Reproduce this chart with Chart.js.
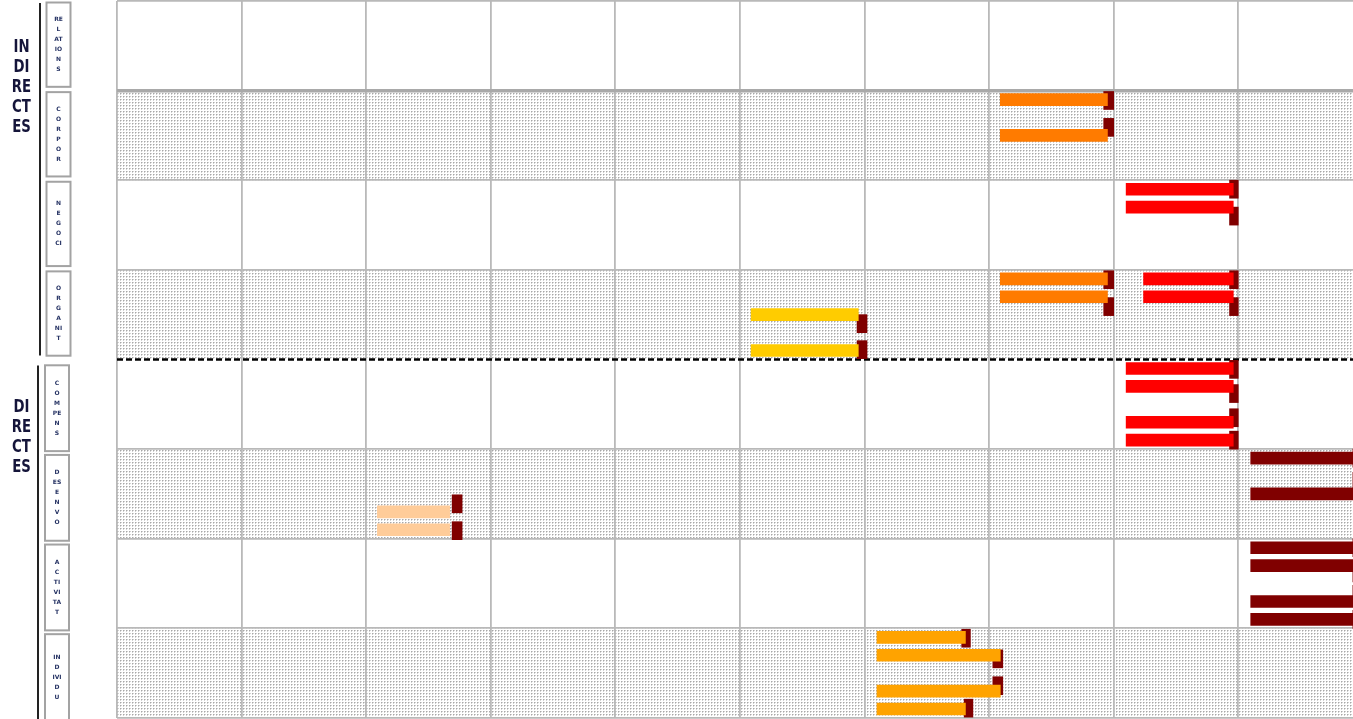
<!DOCTYPE html>
<html>
<head>
<meta charset="utf-8">
<script src="https://cdn.jsdelivr.net/npm/chart.js@4.4.1/dist/chart.umd.min.js"></script>
<style>
  html, body { margin: 0; padding: 0; background: #fff; overflow: hidden; }
  #wrap { width: 1353px; height: 719px; position: relative; }
</style>
</head>
<body>
<div id="wrap"><canvas id="plan"></canvas></div>
<script>
// Grups i files del quadre
const groupNames = ['INDIRECTES', 'DIRECTES'];
const groupFirstRow = [0, 4];
const groupLastRow = [3, 7];
const rowLabels = [
  ['RE', 'L', 'AT', 'IO', 'N', 'S'],
  ['C', 'O', 'R', 'P', 'O', 'R'],
  ['N', 'E', 'G', 'O', 'CI'],
  ['O', 'R', 'G', 'A', 'NI', 'T'],
  ['C', 'O', 'M', 'PE', 'N', 'S'],
  ['D', 'ES', 'E', 'N', 'V', 'O'],
  ['A', 'C', 'TI', 'VI', 'TA', 'T'],
  ['IN', 'D', 'IVI', 'D', 'U']
];

// Barres: carril (fila + posició dins la fila), inici, final i tipus
const taskLane  = [1.1, 1.5, 2.1, 2.3, 3.1, 3.3, 3.1, 3.3, 3.5, 3.9, 4.1, 4.3, 4.7, 4.9, 5.1, 5.5, 5.7, 5.9, 6.1, 6.3, 6.7, 6.9, 7.1, 7.3, 7.7, 7.9];
const taskStart = [7.09, 7.09, 8.1, 8.1, 7.09, 7.09, 8.24, 8.24, 5.09, 5.09, 8.1, 8.1, 8.1, 8.1, 9.1, 9.1, 2.09, 2.09, 9.1, 9.1, 9.1, 9.1, 6.1, 6.1, 6.1, 6.1];
const taskEnd   = [7.95, 7.95, 8.96, 8.96, 7.95, 7.95, 8.96, 8.96, 5.95, 5.95, 8.96, 8.96, 8.96, 8.96, 9.96, 9.96, 2.67, 2.67, 9.96, 9.96, 9.96, 9.96, 6.81, 7.09, 7.09, 6.81];
const taskKind  = [1, 1, 2, 2, 1, 1, 2, 2, 0, 0, 2, 2, 2, 2, 4, 4, 3, 3, 4, 4, 4, 4, 5, 5, 5, 5];

// Fites al final de cada barra
const markLane  = [1.11, 1.41, 2.1, 2.4, 3.11, 3.41, 3.11, 3.41, 3.6, 3.89, 4.11, 4.38, 4.65, 4.9, 5.1, 5.36, 5.61, 5.91, 6.1, 6.38, 6.62, 6.9, 7.11, 7.34, 7.64, 7.89];
const markStart = [7.92, 7.92, 8.93, 8.93, 7.92, 7.92, 8.93, 8.93, 5.94, 5.94, 8.93, 8.93, 8.93, 8.93, 9.92, 9.92, 2.69, 2.69, 9.92, 9.92, 9.92, 9.92, 6.78, 7.03, 7.03, 6.8];
const markEnd   = [8.0, 8.0, 9.0, 9.0, 8.0, 8.0, 9.0, 9.0, 6.02, 6.02, 9.0, 9.0, 9.0, 9.0, 10.0, 10.0, 2.77, 2.77, 10.0, 10.0, 10.0, 10.0, 6.85, 7.11, 7.11, 6.87];

// estils
const kindColors = ['#ffcc00', '#ff7b00', '#ff0000', '#ffcc99', '#800000', '#ffa300'];
const markColor = '#800000';
const gridColor = '#b9b9b9';
const panel = {
  labelX: 21.5, labelTop: [46, 48], labelStep: 20, labelSqueeze: 0.82,
  lineX: [40, 38], lineTop: [2, 6], lineBottom: [-4, 1],
  boxX: [46.5, 45], boxTop: [1.5, 5.8], boxBottom: [-3.8, 2], boxW: 24
};

// trama de punts per a les files alternes
const dotTile = document.createElement('canvas');
dotTile.width = 3; dotTile.height = 3;
const tctx = dotTile.getContext('2d');
tctx.fillStyle = '#fff'; tctx.fillRect(0, 0, 3, 3);
tctx.fillStyle = '#a8a8a8'; tctx.fillRect(0, 0, 1, 1);
tctx.fillStyle = '#d2d2d2'; tctx.fillRect(1, 0, 1, 1); tctx.fillRect(0, 1, 1, 1);

const planPlugin = {
  id: 'planPlugin',
  beforeDraw(chart) {
    const { ctx, chartArea: a, scales: { y } } = chart;
    ctx.save();
    ctx.fillStyle = ctx.createPattern(dotTile, 'repeat');
    for (let r = 1; r < rowLabels.length; r += 2) {
      const top = y.getPixelForValue(r), bot = y.getPixelForValue(r + 1);
      ctx.fillRect(a.left, top, a.right - a.left, bot - top);
    }
    ctx.restore();
  },
  beforeDatasetsDraw(chart) {
    // separació entre indirectes i directes
    const { ctx, chartArea: a, scales: { y } } = chart;
    const py = y.getPixelForValue(groupFirstRow[1]);
    ctx.save();
    ctx.strokeStyle = '#000';
    ctx.lineWidth = 2.5;
    ctx.setLineDash([6, 3]);
    ctx.beginPath(); ctx.moveTo(a.left, py); ctx.lineTo(a.right, py); ctx.stroke();
    ctx.restore();
  },
  afterDraw(chart) {
    const { ctx, scales: { y } } = chart;
    ctx.save();
    ctx.textAlign = 'center';
    ctx.textBaseline = 'middle';
    groupNames.forEach((name, g) => {
      const top = y.getPixelForValue(groupFirstRow[g]);
      const bot = y.getPixelForValue(groupLastRow[g] + 1);
      ctx.strokeStyle = '#222';
      ctx.lineWidth = 2;
      ctx.beginPath();
      ctx.moveTo(panel.lineX[g], top + panel.lineTop[g]);
      ctx.lineTo(panel.lineX[g], bot + panel.lineBottom[g]);
      ctx.stroke();
      ctx.fillStyle = '#15153a';
      ctx.font = 'bold 18px "Liberation Sans Narrow", "DejaVu Sans Condensed", sans-serif';
      name.match(/.{1,2}/g).forEach((part, i) => {
        ctx.save();
        ctx.translate(panel.labelX, top + panel.labelTop[g] + i * panel.labelStep);
        ctx.scale(panel.labelSqueeze, 1);
        ctx.fillText(part, 0, 0);
        ctx.restore();
      });
    });
    rowLabels.forEach((parts, r) => {
      const g = r < groupFirstRow[1] ? 0 : 1;
      const top = y.getPixelForValue(r) + panel.boxTop[g];
      const bot = y.getPixelForValue(r + 1) + panel.boxBottom[g];
      ctx.strokeStyle = '#a3a3a3';
      ctx.lineWidth = 2;
      ctx.strokeRect(panel.boxX[g], top, panel.boxW, bot - top);
      ctx.fillStyle = '#253263';
      ctx.font = 'bold 6px "DejaVu Sans", sans-serif';
      const mid = (top + bot) / 2;
      parts.forEach((p, i) => {
        ctx.fillText(p, panel.boxX[g] + panel.boxW / 2, mid + (i - (parts.length - 1) / 2) * 10);
      });
    });
    ctx.restore();
  }
};

new Chart(document.getElementById('plan'), {
  type: 'bar',
  data: {
    datasets: [
      {
        label: 'Tasques',
        data: taskLane.map((lane, i) => ({ x: [taskStart[i], taskEnd[i]], y: lane })),
        backgroundColor: taskKind.map(k => kindColors[k]),
        barThickness: 12,
        grouped: false
      },
      {
        label: 'Fites',
        data: markLane.map((lane, i) => ({ x: [markStart[i], markEnd[i]], y: lane })),
        backgroundColor: markColor,
        barThickness: 18,
        grouped: false
      }
    ]
  },
  options: {
    indexAxis: 'y',
    responsive: true,
    maintainAspectRatio: false,
    animation: false,
    layout: { padding: { left: 117, top: 1, right: 0, bottom: 1 } },
    plugins: { legend: { display: false }, tooltip: { enabled: false } },
    scales: {
      x: {
        type: 'linear', position: 'top', min: 0, max: 9.921,
        ticks: { display: false, stepSize: 1, includeBounds: false },
        grid: { color: gridColor, lineWidth: 1.8, drawTicks: false },
        border: { display: false }
      },
      y: {
        type: 'linear', min: 0, max: 8, reverse: true, offset: false,
        ticks: { display: false, stepSize: 1 },
        grid: {
          offset: false, drawTicks: false,
          color: c => c.tick.value === groupFirstRow[1] ? 'rgba(0,0,0,0)' : (c.tick.value === 1 ? '#a9a9a9' : gridColor),
          lineWidth: c => c.tick.value === 1 ? 3.5 : 1.8
        },
        border: { display: false }
      }
    }
  },
  plugins: [planPlugin]
});
</script>
</body>
</html>
